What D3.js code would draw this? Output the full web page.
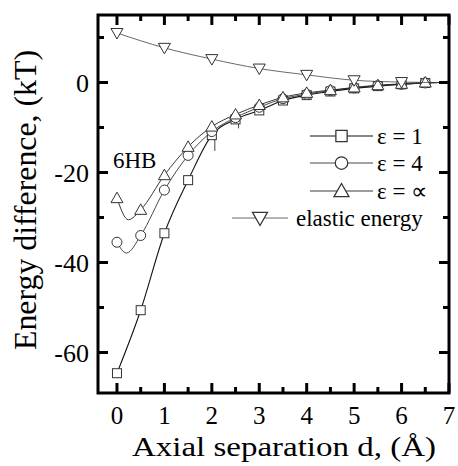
<!DOCTYPE html>
<html>
<head>
<meta charset="utf-8">
<script src="https://cdn.jsdelivr.net/npm/d3@7"></script>
<style>
  body { margin: 0; background: #fff; }
  svg text { font-family: "Liberation Serif", "Times New Roman", serif; }
</style>
</head>
<body>
<div id="chart"></div>
<script>
// 数据（标记点）
const dFine = [0, 0.5, 1, 1.5, 2, 2.5, 3, 3.5, 4, 4.5, 5, 5.5, 6, 6.5];
const eps1 = [-64.6, -50.6, -33.5, -21.7, -11.7, -8.2, -6.2, -4.0, -2.8, -2.0, -1.3, -0.8, -0.4, -0.1];
const eps4 = [-35.5, -34.0, -23.9, -16.2, -10.9, -7.8, -5.5, -3.6, -2.6, -1.8, -1.2, -0.7, -0.4, -0.1];
const epsInf = [-25.7, -28.3, -20.6, -14.3, -9.8, -7.1, -5.0, -3.3, -2.3, -1.7, -1.1, -0.6, -0.3, 0.0];
const eps1Err = [0, 0, 0, 0, 3.5, 2.0, 0, 0, 0, 0, 0, 0, 0, 0];
const dElastic = [0, 1, 2, 3, 4, 5, 6];
const elastic = [11.0, 7.7, 5.2, 3.1, 1.7, 0.5, 0.1];

// 曲线上额外读出的点（无标记）：极小值与末端
const eps4Extra = [[0.2, -37.9], [6.8, 0]];
const epsInfExtra = [[0.24, -30.5], [6.8, 0]];
const eps1Extra = [[6.8, 0]];
const elasticExtra = [[6.8, 0]];

const xTicks = [0, 1, 2, 3, 4, 5, 6, 7];
const yTicks = [0, -20, -40, -60];

// 画布设置
const width = 458, height = 466;
const margin = { left: 98, right: 9, top: 15, bottom: 73 };

const svg = d3.select("#chart").append("svg")
  .attr("width", width)
  .attr("height", height);

const x = d3.scaleLinear().domain([-0.4, 7]).range([margin.left, width - margin.right]);
const y = d3.scaleLinear().domain([-69, 15]).range([height - margin.bottom, margin.top]);

const line = d3.line()
  .x((d) => x(d[0]))
  .y((d) => y(d[1]))
  .curve(d3.curveMonotoneX);

const series = [
  { name: "ε = 1", xs: dFine, ys: eps1, extra: eps1Extra, shape: "square", stroke: "#111", lw: 1.1 },
  { name: "ε = 4", xs: dFine, ys: eps4, extra: eps4Extra, shape: "circle", stroke: "#333", lw: 0.9 },
  { name: "ε = ∝", xs: dFine, ys: epsInf, extra: epsInfExtra, shape: "tri", stroke: "#222", lw: 0.9 },
  { name: "elastic energy", xs: dElastic, ys: elastic, extra: elasticExtra, shape: "dtri", stroke: "#444", lw: 0.8 }
];

function marker(g, shape, cx, cy) {
  if (shape === "square") {
    g.append("rect").attr("x", cx - 4.5).attr("y", cy - 4.5).attr("width", 9).attr("height", 9);
  } else if (shape === "circle") {
    g.append("circle").attr("cx", cx).attr("cy", cy).attr("r", 5);
  } else if (shape === "tri") {
    g.append("path").attr("d", `M${cx},${cy - 6}L${cx + 6},${cy + 4.5}L${cx - 6},${cy + 4.5}Z`);
  } else {
    g.append("path").attr("d", `M${cx},${cy + 6}L${cx + 6},${cy - 4.5}L${cx - 6},${cy - 4.5}Z`);
  }
}

// 误差线
const errG = svg.append("g").attr("stroke", "#444").attr("stroke-width", 1);
dFine.forEach((d, i) => {
  if (eps1Err[i] > 0) {
    errG.append("line")
      .attr("x1", x(d) + 3).attr("x2", x(d) + 3)
      .attr("y1", y(eps1[i])).attr("y2", y(eps1[i] - eps1Err[i]));
  }
});

// 曲线与标记
series.forEach((s) => {
  const pts = s.xs.map((d, i) => [d, s.ys[i]]);
  const curvePts = pts.concat(s.extra).sort((a, b) => a[0] - b[0]);
  svg.append("path")
    .datum(curvePts)
    .attr("fill", "none")
    .attr("stroke", s.stroke)
    .attr("stroke-width", s.lw)
    .attr("d", line);
  const mg = svg.append("g").attr("fill", "#fff").attr("stroke", "#333").attr("stroke-width", 1);
  pts.forEach((p) => marker(mg, s.shape, x(p[0]), y(p[1])));
});

// 坐标轴刻度（四边向内）
const x0 = x.range()[0], x1 = x.range()[1];
const y0 = y.range()[0], y1 = y.range()[1];
const tickG = svg.append("g").attr("stroke", "#000").attr("stroke-width", 3);
d3.range(0, 15).map((k) => k * 0.5).forEach((v) => {
  const len = Number.isInteger(v) ? 10 : 6;
  tickG.append("line").attr("x1", x(v)).attr("x2", x(v)).attr("y1", y0).attr("y2", y0 - len);
  tickG.append("line").attr("x1", x(v)).attr("x2", x(v)).attr("y1", y1).attr("y2", y1 + len);
});
d3.range(-60, 11, 10).forEach((v) => {
  const len = v % 20 === 0 ? 10 : 6;
  tickG.append("line").attr("x1", x0).attr("x2", x0 + len).attr("y1", y(v)).attr("y2", y(v));
  tickG.append("line").attr("x1", x1).attr("x2", x1 - len).attr("y1", y(v)).attr("y2", y(v));
});

svg.append("rect")
  .attr("x", x0).attr("y", y1)
  .attr("width", x1 - x0).attr("height", y0 - y1)
  .attr("fill", "none").attr("stroke", "#000").attr("stroke-width", 3);

// 刻度标签
svg.append("g").selectAll("text").data(xTicks).join("text")
  .attr("x", (d) => x(d)).attr("y", 424)
  .attr("text-anchor", "middle").style("font-size", "25px")
  .text((d) => d);
svg.append("g").selectAll("text").data(yTicks).join("text")
  .attr("x", 89).attr("y", (d) => y(d) + 9)
  .attr("text-anchor", "end").style("font-size", "26px")
  .text((d) => d);

// 轴标题
svg.append("text")
  .attr("x", 132).attr("y", 456)
  .attr("textLength", 304).attr("lengthAdjust", "spacingAndGlyphs")
  .style("font-size", "27px")
  .text("Axial separation d, (Å)");
svg.append("text")
  .attr("transform", "translate(36,350) rotate(-90)")
  .attr("textLength", 300).attr("lengthAdjust", "spacingAndGlyphs")
  .style("font-size", "31px")
  .text("Energy difference, (kT)");

svg.append("text").attr("x", 113).attr("y", 168).style("font-size", "23px").text("6HB");

// 图例
const legendRows = [
  { s: series[0], y: 136, x1: 310, x2: 373, tx: 377 },
  { s: series[1], y: 163, x1: 310, x2: 373, tx: 377 },
  { s: series[2], y: 191, x1: 310, x2: 373, tx: 377 },
  { s: series[3], y: 218, x1: 232, x2: 288, tx: 296 }
];
legendRows.forEach((r) => {
  svg.append("line")
    .attr("x1", r.x1).attr("x2", r.x2).attr("y1", r.y).attr("y2", r.y)
    .attr("stroke", r.s.stroke).attr("stroke-width", r.s.lw);
  const mg = svg.append("g").attr("fill", "#fff").attr("stroke", "#333").attr("stroke-width", 1);
  const g2 = mg.append("g").attr("transform", `translate(${(r.x1 + r.x2) / 2},${r.y}) scale(1.25)`);
  marker(g2, r.s.shape, 0, 0);
  svg.append("text").attr("x", r.tx).attr("y", r.y + 8)
    .style("font-size", "23px").text(r.s.name);
});
</script>
</body>
</html>
